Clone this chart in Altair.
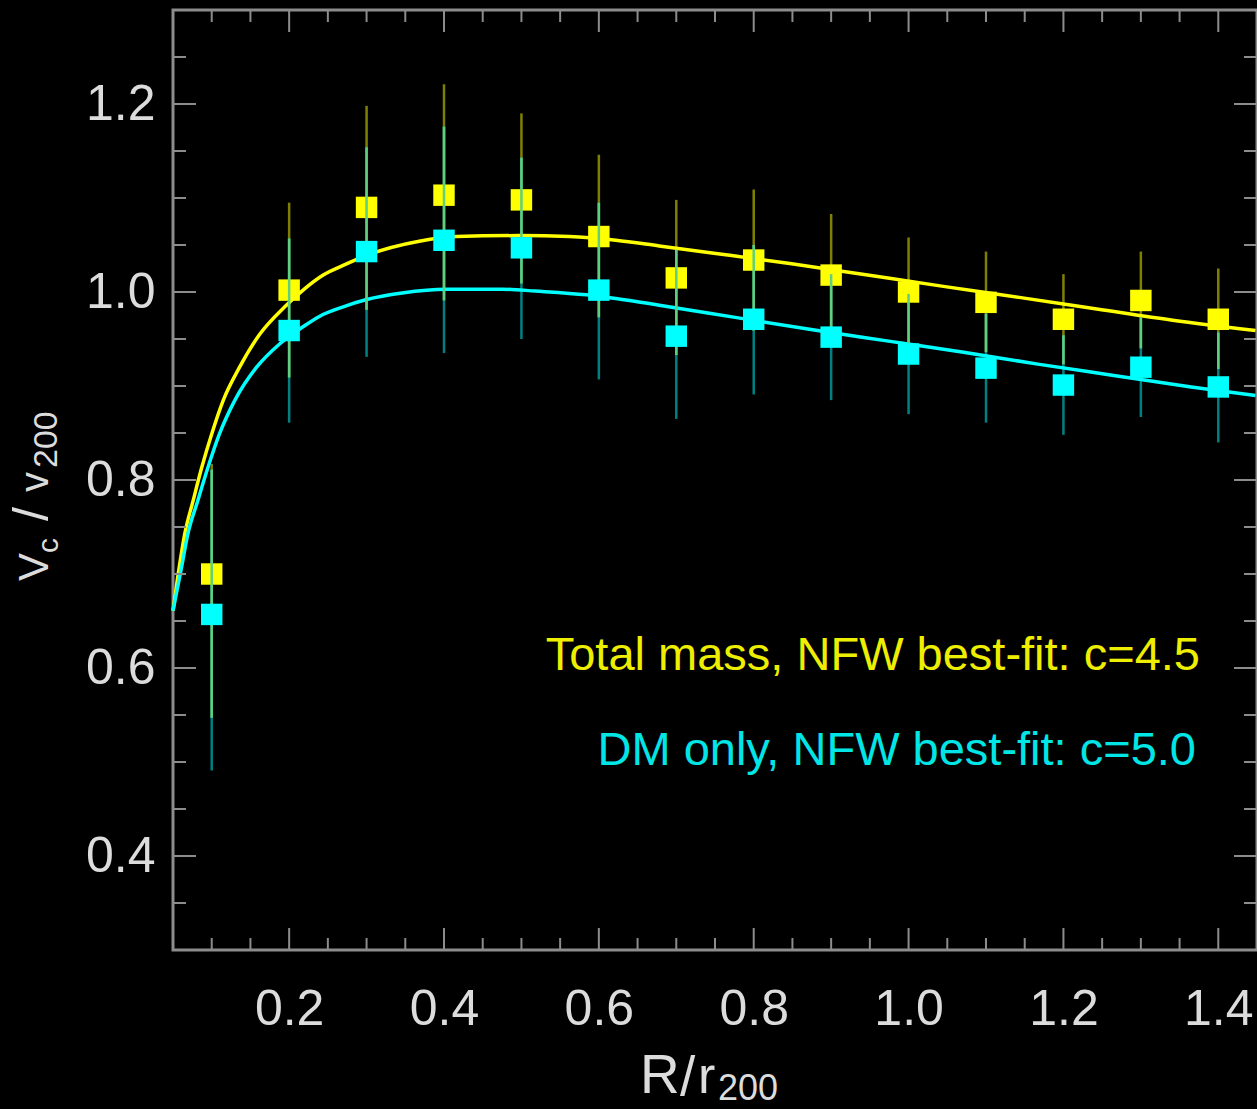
import altair as alt
import pandas as pd

# ---- data ----
r = [0.1, 0.2, 0.3, 0.4, 0.5, 0.6, 0.7, 0.8, 0.9, 1.0, 1.1, 1.2, 1.3, 1.4]
total_v = [0.700, 1.002, 1.090, 1.103, 1.098, 1.059, 1.015, 1.034, 1.018, 1.000, 0.989, 0.971, 0.991, 0.971]
total_lo = [0.547, 0.909, 0.981, 0.991, 1.009, 0.973, 0.933, 0.959, 0.953, 0.942, 0.936, 0.923, 0.940, 0.918]
total_hi = [0.817, 1.095, 1.198, 1.221, 1.190, 1.146, 1.098, 1.109, 1.083, 1.058, 1.043, 1.019, 1.043, 1.025]
dm_v = [0.657, 0.959, 1.043, 1.055, 1.047, 1.002, 0.953, 0.971, 0.952, 0.934, 0.919, 0.901, 0.920, 0.899]
dm_lo = [0.491, 0.861, 0.931, 0.935, 0.950, 0.907, 0.865, 0.891, 0.885, 0.870, 0.861, 0.848, 0.867, 0.840]
dm_hi = [0.811, 1.057, 1.154, 1.176, 1.143, 1.095, 1.045, 1.050, 1.019, 0.998, 0.977, 0.954, 0.973, 0.957]

fit_total_r = [0.050, 0.058, 0.065, 0.076, 0.087, 0.100, 0.115, 0.136, 0.162, 0.194, 0.218, 0.244, 0.269, 0.300,
               0.368, 0.416, 0.497, 0.562, 0.622, 0.678, 0.751, 0.849, 0.947, 1.045, 1.145, 1.243, 1.341, 1.448]
fit_total_v = [0.661, 0.707, 0.742, 0.778, 0.813, 0.849, 0.885, 0.920, 0.955, 0.984, 1.002, 1.018, 1.028, 1.039,
               1.054, 1.059, 1.060, 1.059, 1.055, 1.049, 1.041, 1.030, 1.018, 1.006, 0.994, 0.982, 0.970, 0.959]
fit_dm_r = [0.050, 0.061, 0.069, 0.082, 0.095, 0.110, 0.130, 0.158, 0.188, 0.218, 0.239, 0.269, 0.300, 0.346,
            0.403, 0.475, 0.518, 0.584, 0.622, 0.678, 0.776, 0.874, 0.972, 1.071, 1.169, 1.267, 1.365, 1.448]
fit_dm_v = [0.661, 0.707, 0.742, 0.778, 0.813, 0.849, 0.885, 0.920, 0.945, 0.963, 0.974, 0.984, 0.992, 0.999,
            1.003, 1.003, 1.001, 0.997, 0.993, 0.986, 0.973, 0.960, 0.948, 0.936, 0.923, 0.911, 0.899, 0.890]

x_labels = [0.2, 0.4, 0.6, 0.8, 1.0, 1.2, 1.4]
y_labels = [0.4, 0.6, 0.8, 1.0, 1.2]
x_minor = [0.1, 0.15, 0.25, 0.3, 0.35, 0.45, 0.5, 0.55, 0.65, 0.7, 0.75, 0.85, 0.9, 0.95,
           1.05, 1.1, 1.15, 1.25, 1.3, 1.35]
y_minor = [0.35, 0.45, 0.5, 0.55, 0.65, 0.7, 0.75, 0.85, 0.9, 0.95, 1.05, 1.1, 1.15, 1.25]

note_total = ["Total mass, NFW best-fit: c=4.5"]
note_dm = ["DM only, NFW best-fit: c=5.0"]

# ---- styling ----
W, H = 1084, 940
FONT = "Liberation Sans"
LABEL_COLOR = "#dcdcdc"
FRAME = "#8c8c8c"
YEL, CYA = "#ffff00", "#00ffff"
OLIVE, TEAL, GREEN = "#808000", "#008080", "#5fd07f"

xs = alt.Scale(domain=[0.05, 1.45], nice=False, zero=False)
ys = alt.Scale(domain=[0.3, 1.3], nice=False, zero=False)
xax = alt.Axis(values=x_labels, format=".1f", title=None, ticks=False, tickSize=0, domain=False, grid=False,
               labelPadding=34, labelFontSize=50, labelFont=FONT, labelColor=LABEL_COLOR,
               labelFlush=False, labelOverlap=False)
yax = alt.Axis(values=y_labels, format=".1f", title=None, ticks=False, tickSize=0, domain=False, grid=False,
               labelPadding=18, labelFontSize=50, labelFont=FONT, labelColor=LABEL_COLOR,
               labelFlush=False, labelOverlap=False)


def X(f):
    return alt.X(f, type="quantitative", scale=xs, axis=xax)


def Y(f):
    return alt.Y(f, type="quantitative", scale=ys, axis=yax)


pts = pd.DataFrame({"r": r, "tv": total_v, "tlo": total_lo, "thi": total_hi,
                    "dv": dm_v, "dlo": dm_lo, "dhi": dm_hi})
fit_t = pd.DataFrame({"r": fit_total_r, "v": fit_total_v})
fit_d = pd.DataFrame({"r": fit_dm_r, "v": fit_dm_v})

base = alt.Chart(pts)
bars_t = base.mark_rule(color=OLIVE, strokeWidth=2.5).encode(x=X("r"), y=Y("tlo"), y2="thi")
bars_d = base.mark_rule(color=TEAL, strokeWidth=2.5).encode(x=X("r"), y=Y("dlo"), y2="dhi")
line_t = alt.Chart(fit_t).mark_line(color=YEL, strokeWidth=3.5, interpolate="monotone").encode(x=X("r"), y=Y("v"))
line_d = alt.Chart(fit_d).mark_line(color=CYA, strokeWidth=3.5, interpolate="monotone").encode(x=X("r"), y=Y("v"))
sq_t = base.mark_square(size=460, color=YEL, opacity=1).encode(x=X("r"), y=Y("tv"))
overlap = base.transform_calculate(
    olo="max(datum.tlo, datum.dlo)", ohi="min(datum.thi, datum.dhi)"
).transform_filter("datum.ohi > datum.olo").mark_rule(color=GREEN, strokeWidth=2.5).encode(
    x=X("r"), y=Y("olo:Q"), y2="ohi:Q")
sq_d = base.mark_square(size=460, color=CYA, opacity=1).encode(x=X("r"), y=Y("dv"))

xmaj = pd.DataFrame({"t": x_labels})
xmin = pd.DataFrame({"t": x_minor})
ymaj = pd.DataFrame({"t": y_labels})
ymin = pd.DataFrame({"t": y_minor})


def xticks(df, length):
    bot = alt.Chart(df).mark_rule(color=FRAME, strokeWidth=2).encode(
        x=X("t"), y=alt.value(H), y2=alt.value(H - length))
    top = alt.Chart(df).mark_rule(color=FRAME, strokeWidth=2).encode(
        x=X("t"), y=alt.value(0), y2=alt.value(length))
    return [bot, top]


def yticks(df, length):
    left = alt.Chart(df).mark_rule(color=FRAME, strokeWidth=2).encode(
        y=Y("t"), x=alt.value(0), x2=alt.value(length))
    right = alt.Chart(df).mark_rule(color=FRAME, strokeWidth=2).encode(
        y=Y("t"), x=alt.value(W), x2=alt.value(W - length))
    return [left, right]


ticks = xticks(xmaj, 22) + xticks(xmin, 12) + yticks(ymaj, 23) + yticks(ymin, 13)


def txt(s, x, y, size, color=LABEL_COLOR, angle=0, align="left", baseline="alphabetic"):
    return alt.Chart(pd.DataFrame({"s": [s]})).mark_text(
        font=FONT, fontSize=size, color=color, angle=angle, align=align, baseline=baseline
    ).encode(text="s:N", x=alt.value(x), y=alt.value(y))


notes = [
    txt(note_total[0], 1027, 660, 47, color="#eeee00", align="right"),
    txt(note_dm[0], 1023, 755, 47, color="#00e6e6", align="right"),
]

# axis titles (pieces for subscripts)
ytitle = [
    txt("V", -125, 571, 42, angle=270),
    txt("c", -115, 543, 30, angle=270),
    txt("/", -125, 504, 50, angle=270, align="center"),
    txt("v", -125, 482, 40, angle=270),
    txt("200", -116, 458, 34, angle=270),
]
xtitle = [
    txt("R", 467, 1083, 55),
    txt("/", 507, 1085, 55),
    txt("r", 525, 1083, 52),
    txt("200", 545, 1090, 36),
]

chart = alt.layer(
    bars_t, bars_d, line_t, line_d, sq_t, overlap, sq_d, *ticks, *notes, *ytitle, *xtitle
).properties(
    width=W, height=H,
    padding={"left": 173, "top": 10, "right": 0, "bottom": 159},
    autosize=alt.AutoSizeParams(type="none"),
).configure(background="black").configure_view(stroke=FRAME, strokeWidth=3)

chart.save("out.html", embed_options={"renderer": "svg", "actions": False})
